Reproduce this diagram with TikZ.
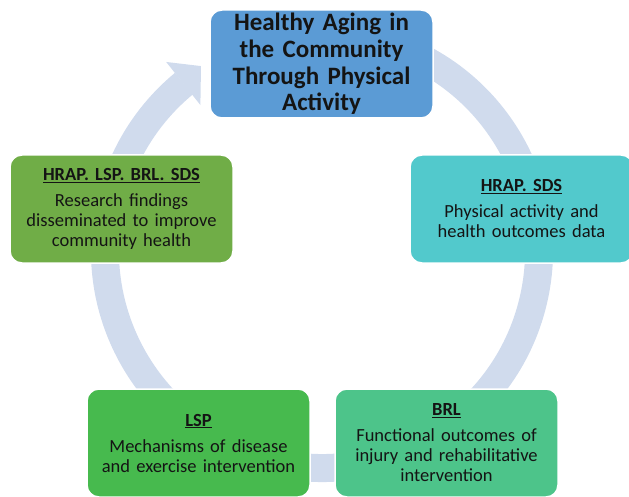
\documentclass[tikz,border=0pt]{standalone}
\usepackage{fontspec}
\setmainfont{Carlito}
\frenchspacing
\definecolor{ringc}{RGB}{208,219,237}
\definecolor{topc}{RGB}{91,155,213}
\definecolor{tealc}{RGB}{82,201,204}
\definecolor{olivec}{RGB}{112,173,71}
\definecolor{greenc}{RGB}{71,186,78}
\definecolor{mintc}{RGB}{77,196,138}
\tikzset{
  cbox/.style={rounded corners=12pt, draw=white, line width=1.5pt,
    minimum width=223pt, minimum height=108pt, inner sep=2pt,
    align=center, text width=219pt, text=black!92,
    font=\fontsize{18.5}{20}\selectfont},
  ringline/.style={draw=ringc, line width=28pt},
}
\newcommand{\hdr}[1]{\underline{\textbf{#1}}\\[6pt]}
\begin{document}
\begin{tikzpicture}[x=1pt,y=-1pt]
\useasboundingbox (0,0) rectangle (629,497);
\clip (0,0) rectangle (629,497);
\coordinate (c) at (322,251);
% ring
\draw[ringline] ([shift={(c)}]-75:217) arc[start angle=-75, end angle=230.5, radius=217];
\fill[ringc] ([shift={(c)}]230.5:245) -- ([shift={(c)}]236.8:221) -- ([shift={(c)}]230.2:190) -- cycle;
% boxes
\node[cbox, fill=topc, font=\fontsize{25}{26.7}\selectfont\bfseries] (top) at (321.5,64)
  {Healthy Aging in\\the Community\\Through Physical\\Activity};
\node[cbox, fill=tealc] (right) at (521.5,209)
  {\hdr{HRAP. SDS}Physical activity and\\health outcomes data};
\node[cbox, fill=mintc] (br) at (446.5,443)
  {\hdr{BRL}Functional outcomes of\\injury and rehabilitative\\intervention};
\node[cbox, fill=greenc] (bl) at (198.5,443)
  {\hdr{LSP}Mechanisms of disease\\and exercise intervention};
\node[cbox, fill=olivec] (left) at (121.5,209)
  {\hdr{HRAP. LSP. BRL. SDS}Research findings\\disseminated to improve\\community health};
\end{tikzpicture}
\end{document}
